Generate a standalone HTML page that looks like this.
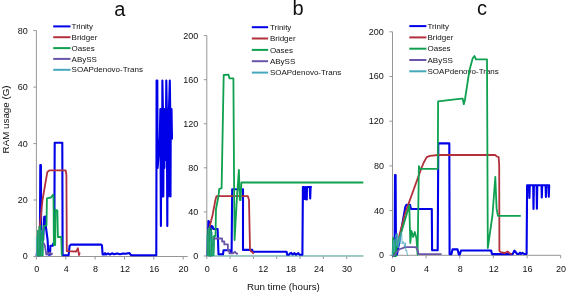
<!DOCTYPE html>
<html><head><meta charset="utf-8"><style>
html,body{margin:0;padding:0;background:#fff;width:567px;height:294px;overflow:hidden}
svg{display:block;will-change:transform}
text{font-family:"Liberation Sans", sans-serif;fill:#111}
</style></head><body>
<svg width="567" height="294" viewBox="0 0 567 294">
<text x="0" y="0" transform="translate(9.0 119.4) rotate(-90)" text-anchor="middle" font-size="9.8">RAM usage (G)</text>
<text x="283.4" y="290" text-anchor="middle" font-size="9.8">Run time (hours)</text>
<path d="M36.4 30.6V256.5H187.7" fill="none" stroke="#969696" stroke-width="1"/>
<path d="M33.4 256.5H36.4" stroke="#969696" stroke-width="1"/>
<text x="27.8" y="259.4" text-anchor="end" font-size="9">0</text>
<path d="M33.4 200H36.4" stroke="#969696" stroke-width="1"/>
<text x="27.8" y="202.9" text-anchor="end" font-size="9">20</text>
<path d="M33.4 143.6H36.4" stroke="#969696" stroke-width="1"/>
<text x="27.8" y="146.5" text-anchor="end" font-size="9">40</text>
<path d="M33.4 87.1H36.4" stroke="#969696" stroke-width="1"/>
<text x="27.8" y="90" text-anchor="end" font-size="9">60</text>
<path d="M33.4 30.6H36.4" stroke="#969696" stroke-width="1"/>
<text x="27.8" y="33.5" text-anchor="end" font-size="9">80</text>
<path d="M36.4 256.5V259.5" stroke="#969696" stroke-width="1"/>
<path d="M65.8 256.5V259.5" stroke="#969696" stroke-width="1"/>
<path d="M95.1 256.5V259.5" stroke="#969696" stroke-width="1"/>
<path d="M124.5 256.5V259.5" stroke="#969696" stroke-width="1"/>
<path d="M153.8 256.5V259.5" stroke="#969696" stroke-width="1"/>
<path d="M183.2 256.5V259.5" stroke="#969696" stroke-width="1"/>
<text x="36.8" y="272.2" text-anchor="middle" font-size="9">0</text>
<text x="66.2" y="272.2" text-anchor="middle" font-size="9">4</text>
<text x="95.5" y="272.2" text-anchor="middle" font-size="9">8</text>
<text x="124.9" y="272.2" text-anchor="middle" font-size="9">12</text>
<text x="154.2" y="272.2" text-anchor="middle" font-size="9">16</text>
<text x="183.6" y="272.2" text-anchor="middle" font-size="9">20</text>
<text x="119.8" y="15.5" text-anchor="middle" font-size="20">a</text>
<path d="M53.2 26.4H70.5" stroke="#0000e8" stroke-width="2"/>
<text x="71.6" y="29" font-size="8">Trinity</text>
<path d="M53.2 37.2H70.5" stroke="#b3313d" stroke-width="2"/>
<text x="71.6" y="39.8" font-size="8">Bridger</text>
<path d="M53.2 48.1H70.5" stroke="#0fa150" stroke-width="2"/>
<text x="71.6" y="50.7" font-size="8">Oases</text>
<path d="M53.2 58.9H70.5" stroke="#6a55a8" stroke-width="2"/>
<text x="71.6" y="61.5" font-size="8">ABySS</text>
<path d="M53.2 69.8H70.5" stroke="#45a8bc" stroke-width="2"/>
<text x="71.6" y="72.4" font-size="8">SOAPdenovo-Trans</text>
<path d="M36.6 256 37.2 251 38 255.5 39 249 39.8 255 40.3 165 40.9 165 41.2 240 43.2 240 44.2 217 45.2 216.5 45.8 226 47.6 240 48.4 254.6 50 254.6 50.4 245.7 52.8 245.7 53.2 243.5 54.3 243.5 54.7 142.8 62.3 142.8 62.6 255.3 68.6 255.3 69.6 246 70.8 244.6 101.3 244.6 102 245.5 102.6 254.5 104 254.5 105 253.2 106 254.5 108 253.5 110 254.5 112 253.3 114 254.3 117 253.4 120 254.3 123 253.5 126 253.8 128 253.2 129.2 253 131.2 255.2 156.3 255.3 156.6 80.5 157.3 80.5 157.6 168 159.8 138 160.4 109 160.9 226 161.4 109 161.9 196.5 162.4 80.5 162.9 109 163.3 196.5 163.7 109 164.4 168 165 109 165.7 160 166.3 80.5 166.8 109 167.3 226 167.8 109 168.4 196.5 169 109 169.8 80.5 170.2 109 170.5 196.5 170.8 109 171.5 109 172 139.5" fill="none" stroke="#0000e8" stroke-width="2.1" stroke-linejoin="round"/>
<path d="M36.8 256 37.6 244 39.5 229.5 42.5 200 47.3 172.1 49.3 170.3 65.7 170.3 66.4 175 66.8 251.1 76.2 251.5 77.9 248.2 79 255 79.8 252.5" fill="none" stroke="#b3313d" stroke-width="1.8" stroke-linejoin="round"/>
<path d="M42.6 256 43.2 232 44 226 45.5 225.5 46.5 225.5 46.9 198.4 51 197.5 53 194.8 53.5 196 53.9 245 55.2 245 55.6 209.7 57.4 210.5 57.9 237 61.3 237 61.8 255.5" fill="none" stroke="#0fa150" stroke-width="1.8" stroke-linejoin="round"/>
<path d="M36.6 256 38 254 39.6 255.5 40.6 250 41.5 245.5 42.6 243.5 43.8 243.5 44.8 245.5 45.6 250 46.3 254.5 47.5 252.5 48.5 254 50 252.5 51.5 254.5 52.5 253" fill="none" stroke="#6a55a8" stroke-width="1.8" stroke-linejoin="round"/>
<path d="M36.5 256 36.8 236 37 256 38 256 38.2 230 38.5 256 39.5 256 39.7 228 40 256 40.9 256 41.1 230 41.4 256 42.4 256 42.6 240 42.9 256" fill="none" stroke="#45a8bc" stroke-width="0.8" stroke-linejoin="round"/>
<path d="M37.4 256 37.6 230 37.9 256 38.9 256 39.1 226 39.4 256 40.4 256 40.7 225 40.9 256 42 256 42.2 234 42.5 256" fill="none" stroke="#0fa150" stroke-width="0.8" stroke-linejoin="round"/>
<path d="M206.8 35.6V256H363.3" fill="none" stroke="#969696" stroke-width="1"/>
<path d="M203.8 256H206.8" stroke="#969696" stroke-width="1"/>
<text x="198.2" y="258.9" text-anchor="end" font-size="9">0</text>
<path d="M203.8 211.9H206.8" stroke="#969696" stroke-width="1"/>
<text x="198.2" y="214.8" text-anchor="end" font-size="9">40</text>
<path d="M203.8 167.8H206.8" stroke="#969696" stroke-width="1"/>
<text x="198.2" y="170.7" text-anchor="end" font-size="9">80</text>
<path d="M203.8 123.8H206.8" stroke="#969696" stroke-width="1"/>
<text x="198.2" y="126.7" text-anchor="end" font-size="9">120</text>
<path d="M203.8 79.7H206.8" stroke="#969696" stroke-width="1"/>
<text x="198.2" y="82.6" text-anchor="end" font-size="9">160</text>
<path d="M203.8 35.6H206.8" stroke="#969696" stroke-width="1"/>
<text x="198.2" y="38.5" text-anchor="end" font-size="9">200</text>
<path d="M206.8 256V259" stroke="#969696" stroke-width="1"/>
<path d="M230.1 256V259" stroke="#969696" stroke-width="1"/>
<path d="M253.4 256V259" stroke="#969696" stroke-width="1"/>
<path d="M276.7 256V259" stroke="#969696" stroke-width="1"/>
<path d="M300.1 256V259" stroke="#969696" stroke-width="1"/>
<path d="M323.4 256V259" stroke="#969696" stroke-width="1"/>
<path d="M346.7 256V259" stroke="#969696" stroke-width="1"/>
<text x="207.2" y="272.2" text-anchor="middle" font-size="9">0</text>
<text x="235.2" y="272.2" text-anchor="middle" font-size="9">6</text>
<text x="263.2" y="272.2" text-anchor="middle" font-size="9">12</text>
<text x="291.1" y="272.2" text-anchor="middle" font-size="9">18</text>
<text x="319.1" y="272.2" text-anchor="middle" font-size="9">24</text>
<text x="347.1" y="272.2" text-anchor="middle" font-size="9">30</text>
<text x="298" y="15.2" text-anchor="middle" font-size="20">b</text>
<path d="M251.8 27.2H268.1" stroke="#0000e8" stroke-width="2"/>
<text x="269.9" y="29.8" font-size="8">Trinity</text>
<path d="M251.8 38.5H268.1" stroke="#b3313d" stroke-width="2"/>
<text x="269.9" y="41.1" font-size="8">Bridger</text>
<path d="M251.8 49.9H268.1" stroke="#0fa150" stroke-width="2"/>
<text x="269.9" y="52.5" font-size="8">Oases</text>
<path d="M251.8 61.2H268.1" stroke="#6a55a8" stroke-width="2"/>
<text x="269.9" y="63.9" font-size="8">ABySS</text>
<path d="M251.8 72.6H268.1" stroke="#45a8bc" stroke-width="2"/>
<text x="269.9" y="75.2" font-size="8">SOAPdenovo-Trans</text>
<path d="M213.6 255.9 363.3 255.9" fill="none" stroke="#86cbc4" stroke-width="1.2" stroke-linejoin="round"/>
<path d="M206.9 256 207.6 250 208.4 221 209.4 222 210.2 240 211.2 226 212.6 226.5 213.2 229 217.6 229 218.5 254.3 223 254.3 223.5 250.3 230 250.3 230.5 252.8 231.6 252.8 232.2 189.3 243 189.3 243 249.9 252.2 249.9 252.6 251.8 286.6 251.8 287.2 254.7 289 254.7 290 253.5 291.2 252.8 292.4 254.5 294.5 253.2 296 254.7 298.3 253.2 299.5 254.7 302.4 254.7 302.9 187 303.8 187 304.6 199 305.3 187 306.3 199.5 306.8 199.5 307 187 309.8 187 310.2 198.4 310.6 187 311.8 187" fill="none" stroke="#0000e8" stroke-width="2.1" stroke-linejoin="round"/>
<path d="M207 256 208 240 208.9 229.6 212.6 215 215.4 200 216.5 196.1 247.8 196.1 249 200 250 249.6 250.8 251.2 252.2 252 253.8 253.8" fill="none" stroke="#b3313d" stroke-width="1.8" stroke-linejoin="round"/>
<path d="M213.4 256 213.8 250 214.2 236 215.5 236 216 209 218.5 196 219.2 189.2 221.6 188.2 223.7 75 228.5 74.7 229.5 78.4 233.4 78.4 234.2 200 234.6 240 237.1 195 238.9 169.8 239.8 200 240.6 200 241.4 182.5 363.3 182.5" fill="none" stroke="#0fa150" stroke-width="1.8" stroke-linejoin="round"/>
<path d="M206.9 256 209 250 210.3 256 212 246 214 238.5 222.1 238.5 222.1 241.5 224.3 241.5 224.3 244.4 227.9 244.4 227.9 250.8 229.4 250.8 229.4 253.4 232.8 253.4 235 251.8 236.5 253.6 238 253.6" fill="none" stroke="#6a55a8" stroke-width="1.8" stroke-linejoin="round"/>
<path d="M206.8 256 207.1 234 207.3 256 208.5 256 208.7 228 209 256 210.1 256 210.3 230 210.6 256 211.7 256 212 232 212.2 256 213.3 256 213.6 240 213.8 256" fill="none" stroke="#45a8bc" stroke-width="0.8" stroke-linejoin="round"/>
<path d="M207.7 256 207.9 229 208.2 256 209.3 256 209.6 226 209.8 256 211.1 256 211.3 228 211.6 256 212.8 256 213 236 213.2 256" fill="none" stroke="#0fa150" stroke-width="0.8" stroke-linejoin="round"/>
<path d="M392.5 31.8V255.3H560.7" fill="none" stroke="#969696" stroke-width="1"/>
<path d="M389.5 255.3H392.5" stroke="#969696" stroke-width="1"/>
<text x="383.9" y="258.2" text-anchor="end" font-size="9">0</text>
<path d="M389.5 210.6H392.5" stroke="#969696" stroke-width="1"/>
<text x="383.9" y="213.5" text-anchor="end" font-size="9">40</text>
<path d="M389.5 165.9H392.5" stroke="#969696" stroke-width="1"/>
<text x="383.9" y="168.8" text-anchor="end" font-size="9">80</text>
<path d="M389.5 121.2H392.5" stroke="#969696" stroke-width="1"/>
<text x="383.9" y="124.1" text-anchor="end" font-size="9">120</text>
<path d="M389.5 76.5H392.5" stroke="#969696" stroke-width="1"/>
<text x="383.9" y="79.4" text-anchor="end" font-size="9">160</text>
<path d="M389.5 31.8H392.5" stroke="#969696" stroke-width="1"/>
<text x="383.9" y="34.7" text-anchor="end" font-size="9">200</text>
<path d="M392.5 255.3V258.3" stroke="#969696" stroke-width="1"/>
<path d="M426.1 255.3V258.3" stroke="#969696" stroke-width="1"/>
<path d="M459.8 255.3V258.3" stroke="#969696" stroke-width="1"/>
<path d="M493.4 255.3V258.3" stroke="#969696" stroke-width="1"/>
<path d="M527.1 255.3V258.3" stroke="#969696" stroke-width="1"/>
<path d="M560.7 255.3V258.3" stroke="#969696" stroke-width="1"/>
<text x="392.9" y="272.2" text-anchor="middle" font-size="9">0</text>
<text x="426.5" y="272.2" text-anchor="middle" font-size="9">4</text>
<text x="460.2" y="272.2" text-anchor="middle" font-size="9">8</text>
<text x="493.8" y="272.2" text-anchor="middle" font-size="9">12</text>
<text x="527.5" y="272.2" text-anchor="middle" font-size="9">16</text>
<text x="561.1" y="272.2" text-anchor="middle" font-size="9">20</text>
<text x="482" y="15.2" text-anchor="middle" font-size="20">c</text>
<path d="M409.3 26.1H426.4" stroke="#0000e8" stroke-width="2"/>
<text x="427.5" y="28.7" font-size="8">Trinity</text>
<path d="M409.3 37.4H426.4" stroke="#b3313d" stroke-width="2"/>
<text x="427.5" y="40" font-size="8">Bridger</text>
<path d="M409.3 48.7H426.4" stroke="#0fa150" stroke-width="2"/>
<text x="427.5" y="51.3" font-size="8">Oases</text>
<path d="M409.3 60H426.4" stroke="#6a55a8" stroke-width="2"/>
<text x="427.5" y="62.6" font-size="8">ABySS</text>
<path d="M409.3 71.3H426.4" stroke="#45a8bc" stroke-width="2"/>
<text x="427.5" y="73.9" font-size="8">SOAPdenovo-Trans</text>
<path d="M392.6 256 394.6 255.5 395 175 395.6 175 396 255 397 254.5 405.3 207 406.5 204.7 410 204.7 411 209 431.8 209 432.1 250.3 437.7 250.3 438.3 143.4 449.3 143.4 449.6 254.2 451.4 254.2 452.5 249.4 457.6 249.4 458.8 254.4 459.8 254.4 461 250.5 491.1 250.5 492 254.1 512.7 254.1 514.5 250.6 517.2 254 519 254 520 252.5 521 254 522.5 252.8 524 254 526.6 254 527.1 185.2 529 185.2 529.4 198 529.8 185.2 533.2 185.2 533.5 209 533.9 185.2 536.6 185.2 536.9 208.7 537.3 185.2 541.5 185.2 541.8 197.4 542.2 185.2 545.6 185.2 545.9 197 546.3 185.2 548.5 185.2 548.8 196.8 549.2 185.2 549.9 185.2" fill="none" stroke="#0000e8" stroke-width="2.1" stroke-linejoin="round"/>
<path d="M392.6 256 394.5 253.7 405 214 406.3 210 420.6 170.4 423.5 163 426.7 157.1 430 155.8 438 155 495.3 155 496.6 156.4 498.6 157 499.2 165 499.4 250.8 500.5 252 502 252.5 505 253 507.5 251.5 510 253.5 512 254" fill="none" stroke="#b3313d" stroke-width="1.8" stroke-linejoin="round"/>
<path d="M392.6 256 393.2 238 393.7 256 394.3 244 394.9 256 395.4 240 396 256 396 250 409.3 205.5 410.3 243 411.5 231 413.2 237 414.8 232 416.4 238 417.6 254.5 418.9 166.1 420 168.8 437.8 168.8 438.1 101.4 461.5 98.7 462.7 98.7 463.8 104.2 464.9 100 469.4 70.4 472.7 58.3 474.4 56 476 59.4 487 59.4 487.8 248 492.5 215 495.3 176.8 496.6 208.7 497.9 215.8 520.8 215.8" fill="none" stroke="#0fa150" stroke-width="1.8" stroke-linejoin="round"/>
<path d="M392.6 256 394.5 255 396 253 398 250.5 400 249 402.7 248.2 405 247.2 416 247.2 417.5 250 418.6 254 441.6 254.2" fill="none" stroke="#6a55a8" stroke-width="1.8" stroke-linejoin="round"/>
<path d="M392.6 256 393.2 244 393.7 240 394.3 252 395.2 238 396.1 233.6 396.7 246 397.3 233 398.2 248 399 236 400 244 400.8 234 401.6 231.8 402.2 244 403.5 241.6 404.7 246.5 405.3 242.8 405.9 250.8 406.5 250 407.5 255.5" fill="none" stroke="#45a8bc" stroke-width="0.8" stroke-linejoin="round"/>
</svg>
</body></html>
